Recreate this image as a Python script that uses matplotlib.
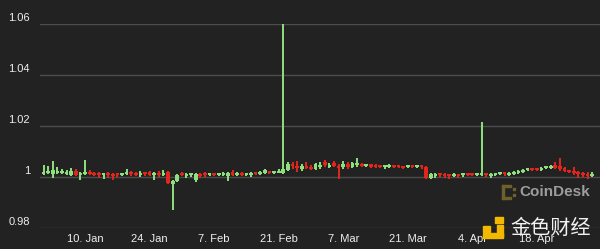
import matplotlib
matplotlib.use("Agg")
import matplotlib.pyplot as plt
from matplotlib.patches import Rectangle
import numpy as np

# daily candles, 1 Jan .. 30 Apr (day index 0 = 1 Jan)
opens = [
    1.0010, 1.0014, 1.0012, 1.0016, 1.0014, 1.0010, 1.0008, 1.0022, 1.0008, 1.0012,
    1.0020, 1.0014, 1.0012, 1.0006, 1.0014, 1.0012, 1.0012, 1.0008, 1.0010, 1.0018,
    1.0016, 1.0008, 1.0016, 1.0018, 1.0008, 1.0016, 1.0008, 1.0018, 0.9974, 0.9986,
    1.0014,
    1.0004, 1.0006, 0.9990, 1.0010, 1.0012, 1.0006, 1.0010, 1.0006, 1.0008, 1.0002,
    1.0020, 1.0008, 1.0014, 1.0008, 1.0008, 1.0016, 1.0012, 1.0016, 1.0020, 1.0016,
    1.0016, 1.0016, 1.0028, 1.0050, 1.0040, 1.0030, 1.0044, 1.0040,
    1.0032, 1.0040, 1.0060, 1.0040, 1.0056, 1.0044, 1.0040, 1.0052, 1.0040, 1.0046,
    1.0052, 1.0042, 1.0050, 1.0048, 1.0046, 1.0038, 1.0038, 1.0040, 1.0040, 1.0040,
    1.0038, 1.0040, 1.0038, 1.0042, 1.0040, 0.9998, 1.0004, 1.0012, 1.0010, 1.0008,
    1.0004,
    1.0008, 1.0006, 1.0010, 1.0008, 1.0006, 1.0006, 1.0010, 1.0004, 1.0008, 1.0010,
    1.0014, 1.0008, 1.0010, 1.0014, 1.0020, 1.0026, 1.0032, 1.0030, 1.0028, 1.0034,
    1.0036, 1.0048, 1.0044, 1.0034, 1.0024, 1.0020, 1.0018, 1.0014, 1.0012, 1.0004,
]
closes = [
    1.0020, 1.0022, 1.0026, 1.0020, 1.0018, 1.0020, 1.0024, 1.0008, 1.0014, 1.0020,
    1.0012, 1.0008, 1.0006, 1.0012, 1.0006, 1.0004, 1.0008, 1.0012, 1.0014, 1.0010,
    1.0008, 1.0014, 1.0010, 1.0008, 1.0014, 1.0006, 1.0014, 0.9976, 0.9986, 1.0008,
    1.0006,
    1.0010, 1.0012, 1.0012, 1.0004, 1.0006, 1.0010, 1.0006, 1.0012, 1.0014, 1.0014,
    1.0008, 1.0014, 1.0008, 1.0014, 1.0014, 1.0010, 1.0018, 1.0026, 1.0016, 1.0020,
    1.0024, 1.0030, 1.0050, 1.0042, 1.0036, 1.0044, 1.0036, 1.0030,
    1.0052, 1.0046, 1.0046, 1.0048, 1.0044, 1.0036, 1.0050, 1.0040, 1.0054, 1.0052,
    1.0042, 1.0046, 1.0040, 1.0038, 1.0040, 1.0042, 1.0042, 1.0038, 1.0038, 1.0037,
    1.0040, 1.0038, 1.0042, 1.0038, 0.9998, 1.0010, 1.0010, 1.0006, 1.0005, 1.0004,
    1.0010,
    1.0004, 1.0010, 1.0006, 1.0006, 1.0009, 1.0010, 1.0006, 1.0010, 1.0010, 1.0012,
    1.0010, 1.0014, 1.0018, 1.0024, 1.0028, 1.0032, 1.0026, 1.0026, 1.0034, 1.0038,
    1.0042, 1.0036, 1.0030, 1.0022, 1.0020, 1.0016, 1.0010, 1.0006, 1.0002, 1.0010,
]
highs = [
    1.0048, 1.0045, 1.0062, 1.0040, 1.0030, 1.0028, 1.0036, 1.0030, 1.0020, 1.0066,
    1.0028, 1.0020, 1.0018, 1.0016, 1.0018, 1.0016, 1.0014, 1.0016, 1.0030, 1.0022,
    1.0020, 1.0024, 1.0020, 1.0024, 1.0020, 1.0022, 1.0026, 1.0022, 0.9990, 1.0010,
    1.0018,
    1.0014, 1.0016, 1.0016, 1.0016, 1.0018, 1.0014, 1.0012, 1.0016, 1.0018, 1.0020,
    1.0028, 1.0018, 1.0018, 1.0016, 1.0020, 1.0018, 1.0022, 1.0030, 1.0022, 1.0024,
    1.0030, 1.0600, 1.0060, 1.0058, 1.0064, 1.0052, 1.0058, 1.0046,
    1.0056, 1.0060, 1.0066, 1.0054, 1.0062, 1.0050, 1.0064, 1.0058, 1.0058, 1.0074,
    1.0056, 1.0050, 1.0052, 1.0050, 1.0048, 1.0048, 1.0050, 1.0044, 1.0042, 1.0044,
    1.0044, 1.0042, 1.0046, 1.0044, 1.0042, 1.0016, 1.0016, 1.0016, 1.0014, 1.0012,
    1.0014,
    1.0012, 1.0014, 1.0012, 1.0010, 1.0012, 1.0215, 1.0014, 1.0014, 1.0014, 1.0016,
    1.0018, 1.0020, 1.0022, 1.0028, 1.0032, 1.0036, 1.0034, 1.0034, 1.0038, 1.0042,
    1.0046, 1.0058, 1.0074, 1.0040, 1.0028, 1.0040, 1.0024, 1.0020, 1.0018, 1.0018,
]
lows = [
    1.0008, 1.0010, 0.9997, 1.0012, 1.0010, 1.0006, 1.0004, 1.0002, 0.9988, 1.0006,
    1.0006, 1.0002, 0.9998, 0.9992, 0.9996, 0.9990, 1.0000, 1.0004, 1.0006, 1.0004,
    1.0002, 1.0000, 1.0004, 1.0002, 0.9990, 1.0000, 1.0004, 0.9972, 0.9870, 0.9982,
    1.0002,
    0.9998, 1.0000, 0.9982, 0.9996, 1.0000, 1.0002, 1.0002, 1.0002, 1.0004, 0.9986,
    1.0004, 1.0004, 1.0004, 1.0004, 1.0000, 1.0006, 1.0006, 1.0012, 1.0012, 1.0012,
    1.0014, 1.0012, 1.0022, 1.0030, 1.0020, 1.0024, 1.0030, 1.0026,
    1.0028, 1.0030, 1.0040, 1.0036, 1.0040, 0.9992, 1.0030, 1.0030, 1.0036, 1.0040,
    1.0038, 1.0038, 1.0036, 1.0034, 1.0034, 1.0032, 1.0034, 1.0034, 1.0034, 1.0032,
    1.0034, 1.0034, 1.0034, 1.0032, 0.9994, 0.9994, 0.9998, 1.0000, 0.9996, 0.9994,
    1.0000,
    0.9996, 1.0000, 1.0002, 1.0002, 1.0002, 1.0002, 1.0000, 0.9998, 1.0004, 1.0006,
    1.0004, 1.0004, 1.0006, 1.0010, 1.0016, 1.0022, 1.0022, 1.0022, 1.0024, 1.0030,
    1.0030, 1.0030, 1.0024, 1.0018, 1.0014, 1.0006, 0.9998, 1.0000, 0.9994, 1.0000,
]

tick_days = [9, 23, 37, 51, 65, 79, 93, 107]
tick_labels = ["10. Jan", "24. Jan", "7. Feb", "21. Feb", "7. Mar", "21. Mar", "4. Apr", "18. Apr"]
y_ticks = [0.98, 1.0, 1.02, 1.04, 1.06]
y_labels = ["0.98", "1", "1.02", "1.04", "1.06"]

BG = "#222222"
UP = "#8ee07f"
DOWN = "#e2261c"
TXT = "#eeeeee"

plt.rcParams['font.family'] = ['Liberation Sans', 'DejaVu Sans']

fig = plt.figure(figsize=(6, 2.49), dpi=100, facecolor=BG)
ax = fig.add_axes([40 / 600, 21 / 249, 560 / 600, 204 / 249])
ax.set_facecolor(BG)

o = np.array(opens)
c = np.array(closes)
h = np.array(highs)
l = np.array(lows)
days = np.arange(len(o))
colors = [UP if cc >= oo else DOWN for oo, cc in zip(o, c)]

ax.vlines(days, l, h, colors=colors, linewidth=1.4, zorder=3)
bottom = np.minimum(o, c)
height = np.maximum(np.abs(c - o), 0.0008)
ax.bar(days, height, bottom=bottom, width=0.8, color=colors, linewidth=0, zorder=4)

ax.set_xlim(-0.78, 120.7)
ax.set_ylim(0.98, 1.06)
for s in ax.spines.values():
    s.set_visible(False)

ax.set_yticks(y_ticks)
ax.yaxis.grid(True, color="#4c4c4c", linewidth=1)
ax.set_axisbelow(True)
ax.tick_params(axis='y', length=0, labelleft=False)
for v, t in zip(y_ticks, y_labels):
    ax.annotate(t, xy=(0, v), xycoords=('axes fraction', 'data'),
                xytext=(-7.2, 0.5), textcoords='offset points',
                ha='right', va='bottom', color=TXT, fontsize=8)

ax.set_xticks(tick_days)
ax.set_xticklabels(tick_labels, color=TXT, fontsize=8)
ax.tick_params(axis='x', length=0, pad=4.5)

# watermarks
px = lambda x, y: (x / 600, 1 - y / 249)
fig.text(*px(519, 192), "CoinDesk", color="#9d9d9d", fontsize=11, fontweight='bold',
         ha='left', va='center')
gold = "#6f5f2c"
for (x0, y0, w, hh) in [(502, 185, 9, 2), (502, 185, 2, 14), (502, 197, 9, 2),
                        (513, 188, 2, 2), (513, 194, 2, 2)]:
    fig.patches.append(Rectangle((x0 / 600, 1 - (y0 + hh) / 249), w / 600, hh / 249,
                                 transform=fig.transFigure, color=gold, zorder=5))

fig.text(*px(510, 228), "金色财经", color="#f2f2f2", fontsize=14.5,
         family=['Noto Sans CJK SC', 'DejaVu Sans'], ha='left', va='center')
yellow = "#f5b800"
for (x0, y0, w, hh) in [(495, 217, 8, 6), (483, 226, 7, 6), (497, 225, 6, 12), (483, 233, 20, 5)]:
    fig.patches.append(Rectangle((x0 / 600, 1 - (y0 + hh) / 249), w / 600, hh / 249,
                                 transform=fig.transFigure, color=yellow, zorder=5))

fig.savefig("out.png", dpi=100, facecolor=BG)
